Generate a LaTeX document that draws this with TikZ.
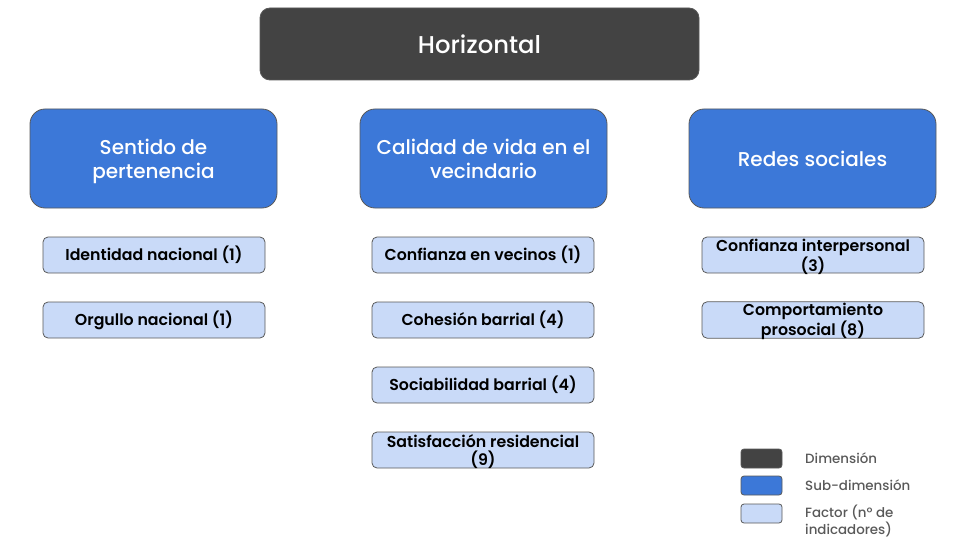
\documentclass[tikz,border=0pt]{standalone}
\usepackage{fontspec}
\setmainfont{Poppins}
\newfontfamily\medfont{Poppins Medium}
\newfontfamily\semifont{Poppins SemiBold}
\definecolor{dimc}{HTML}{434343}
\definecolor{subc}{HTML}{3C78D8}
\definecolor{facc}{HTML}{C9DAF8}
\definecolor{edgec}{HTML}{595959}
\definecolor{legtext}{HTML}{595959}
\newcommand{\downby}[2]{\raisebox{-#1}[\height][\depth]{#2}}
\tikzset{
  dimbox/.style={draw=edgec, line width=0.8pt, fill=dimc, rounded corners=10pt, minimum width=439pt, minimum height=72pt, text=white, font=\medfont\fontsize{24.3}{28}\selectfont, inner sep=0pt},
  subbox/.style={draw=edgec, line width=0.8pt, fill=subc, rounded corners=15pt, minimum width=247pt, minimum height=99pt, text=white, align=center, font=\medfont\fontsize{20}{24}\selectfont, inner sep=0pt},
  facbox/.style={draw=edgec, line width=0.8pt, fill=facc, rounded corners=5pt, minimum width=222pt, minimum height=36pt, text=black, align=center, font=\semifont\fontsize{15.8}{18}\selectfont, inner sep=0pt},
  legsw/.style={draw=edgec, line width=0.8pt, rounded corners=3pt, minimum width=41pt, minimum height=19pt, inner sep=0pt},
  legtxt/.style={anchor=west, text=legtext, align=left, font=\medfont\fontsize{13.4}{17}\selectfont, inner sep=0pt}
}
\begin{document}
\begin{tikzpicture}[x=1pt,y=-1pt]
\useasboundingbox (0,0) rectangle (960,540);
\node[dimbox] (dim) at (479.5,44) {Horizontal};
\node[subbox] (s1) at (153.5,158.5) {\downby{3pt}{\parbox{240pt}{\centering Sentido de\\pertenencia}}};
\node[subbox] (s2) at (483.5,158.5) {\parbox{240pt}{\centering Calidad de vida en el\\vecindario}};
\node[subbox] (s3) at (812.5,158.5) {Redes sociales};
\node[facbox] (f11) at (154,255) {Identidad nacional (1)};
\node[facbox] (f12) at (154,320) {Orgullo nacional (1)};
\node[facbox] (f21) at (483,255) {Confianza en vecinos (1)};
\node[facbox] (f22) at (483,320) {Cohesión barrial (4)};
\node[facbox] (f23) at (483,385) {Sociabilidad barrial (4)};
\node[facbox] (f24) at (483,450) {\downby{1.5pt}{\parbox{220pt}{\centering Satisfacción residencial\\(9)}}};
\node[facbox] (f31) at (813,255) {\downby{1.5pt}{\parbox{220pt}{\centering Confianza interpersonal\\(3)}}};
\node[facbox] (f32) at (813,320) {\downby{1.5pt}{\parbox{220pt}{\centering Comportamiento\\prosocial (8)}}};
\node[legsw, fill=dimc] (l1) at (761.5,458.5) {};
\node[legsw, fill=subc] (l2) at (761.5,485.5) {};
\node[legsw, fill=facc] (l3) at (761.5,513.5) {};
\node[legtxt] (t1) at (805,458) {Dimensión};
\node[legtxt] (t2) at (805,485) {Sub-dimensión};
\node[legtxt] (t3) at (805,520.5) {Factor (nº de\\indicadores)};
\end{tikzpicture}
\end{document}
